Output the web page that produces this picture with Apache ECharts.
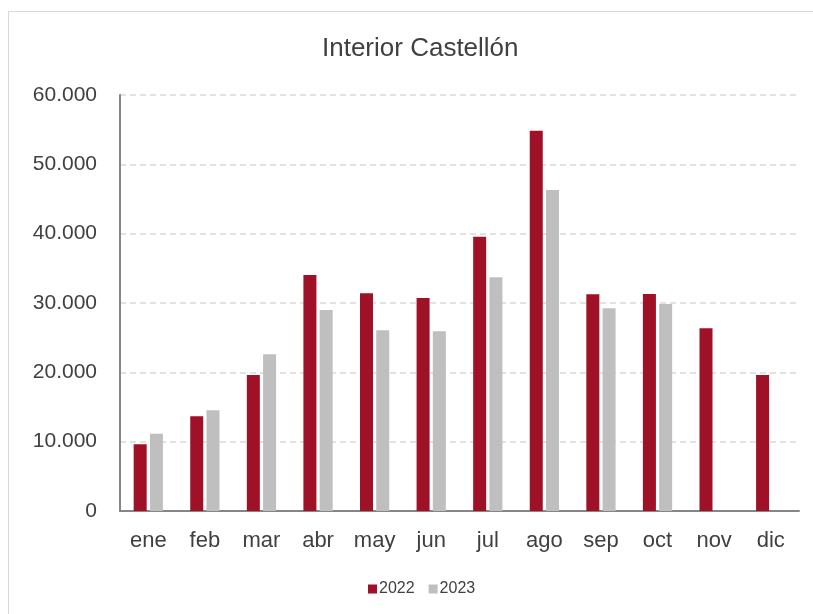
<!DOCTYPE html>
<html>
<head>
<meta charset="utf-8">
<script src="https://cdn.jsdelivr.net/npm/echarts@6/dist/echarts.min.js"></script>
<style>
html,body{margin:0;padding:0;background:#fff;}
#frame{position:absolute;left:8px;top:11px;width:830px;height:640px;border:1px solid #d9d9d9;box-sizing:border-box;}
#chart{position:absolute;left:0;top:0;width:813px;height:614px;}
</style>
</head>
<body>
<div id="frame"></div>
<div id="chart"></div>
<script>
const categories = ['ene','feb','mar','abr','may','jun','jul','ago','sep','oct','nov','dic'];
const values2022 = [9620, 13650, 19620, 34040, 31400, 30720, 39560, 54850, 31250, 31300, 26350, 19620];
const values2023 = [11150, 14520, 22600, 28990, 26060, 25920, 33700, 46300, 29230, 29850, null, null];
const seriesNames = ['2022', '2023'];
const titleText = 'Interior Castellón';

const chart = echarts.init(document.getElementById('chart'), null, {renderer: 'canvas'});
const fmt = v => v === 0 ? '0' : String(v).replace(/\B(?=(\d{3})+(?!\d))/g, '.');
chart.setOption({
  animation: false,
  textStyle: {fontFamily: 'Liberation Sans'},
  title: {
    text: titleText, left: 322, top: 36, padding: 0,
    textStyle: {fontSize: 26, fontWeight: 'normal', color: '#404040', fontFamily: 'Liberation Sans'}
  },
  legend: {
    data: seriesNames, bottom: 17, left: 368, padding: 0,
    itemWidth: 9, itemHeight: 9, itemGap: 14, icon: 'rect',
    textStyle: {fontSize: 16, color: '#404040', padding: [0,0,0,-3]}
  },
  grid: {left: 120, right: 14, top: 95, bottom: 103, containLabel: false},
  xAxis: {
    type: 'category', data: categories,
    axisLine: {lineStyle: {color: '#868686', width: 2}},
    axisTick: {show: false},
    axisLabel: {fontSize: 22, color: '#404040', margin: 19}
  },
  yAxis: {
    type: 'value', min: 0, max: 60000, interval: 10000,
    axisLine: {show: true, lineStyle: {color: '#868686', width: 2}},
    axisLabel: {fontSize: 21, color: '#404040', margin: 23, formatter: fmt, padding: [3,0,0,0]},
    splitLine: {lineStyle: {color: '#d9d9d9', type: [6, 4], width: 1.5}}
  },
  series: [
    {name: seriesNames[0], type: 'bar', data: values2022, barWidth: 13, barGap: '25%',
     itemStyle: {color: '#9e1126'}},
    {name: seriesNames[1], type: 'bar', data: values2023, barWidth: 13, barGap: '25%',
     itemStyle: {color: '#bfbfbf'}}
  ]
});
</script>
</body>
</html>
